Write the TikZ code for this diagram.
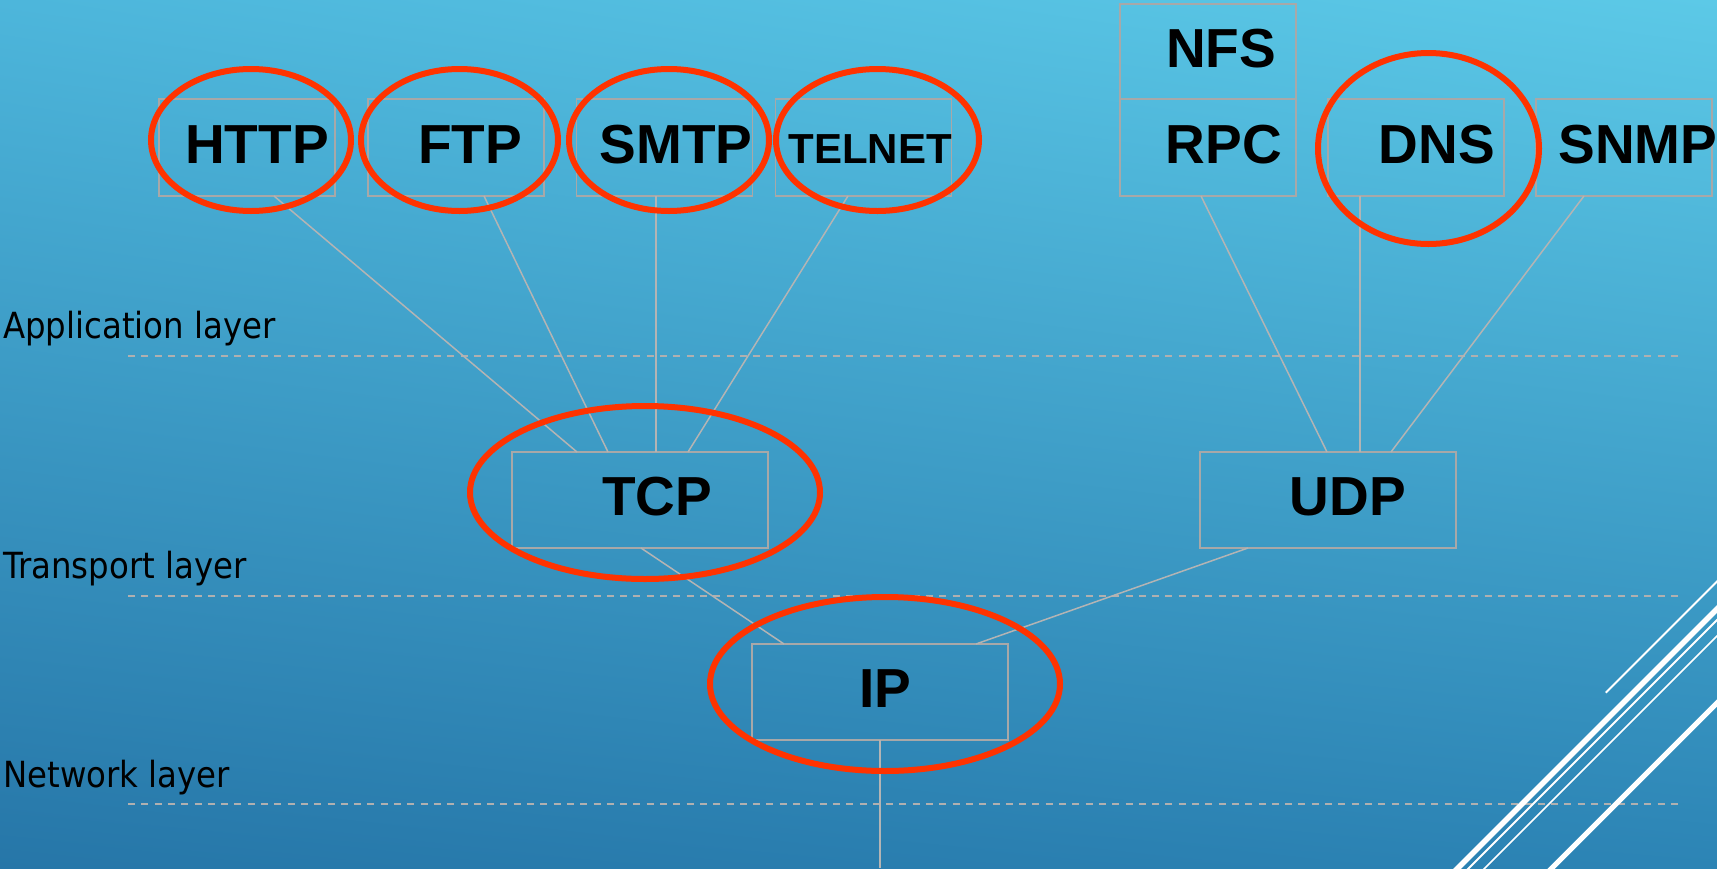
\documentclass[tikz,border=0pt]{standalone}
\usepackage{fontspec}
\usetikzlibrary{shadings}
\setmainfont{Liberation Sans}
\newfontfamily\layerfont[FakeStretch=0.9]{DejaVu Sans}
\definecolor{bgUL}{HTML}{4DB6DB}
\definecolor{bgUR}{HTML}{5CC9E7}
\definecolor{bgLL}{HTML}{2676A8}
\definecolor{bgLR}{HTML}{2C84B5}
\definecolor{boxgray}{HTML}{A8A8A8}
\definecolor{conngray}{HTML}{B4B4B4}
\definecolor{dashgray}{HTML}{B0B0B0}
\definecolor{ringred}{HTML}{FF3300}
\begin{document}
\begin{tikzpicture}[x=1pt,y=-1pt,
  box/.style={draw=boxgray, line width=1.5pt, minimum width=176pt, minimum height=97pt, inner sep=0pt, outer sep=0pt},
  bigbox/.style={box, minimum width=256pt, minimum height=96pt},
  lbl/.style={font=\bfseries\fontsize{55}{60}\selectfont, anchor=base, inner sep=0pt, text=black},
  smalllbl/.style={lbl, font=\bfseries\fontsize{42}{46}\selectfont},
  layer/.style={font=\layerfont\fontsize{36}{40}\selectfont, anchor=base west, inner sep=0pt, text=black},
  conn/.style={draw=conngray, line width=1.5pt},
  sep/.style={draw=dashgray, line width=2pt, dash pattern=on 7pt off 6.3pt},
  ring/.style={draw=ringred, line width=6pt},
  deco/.style={draw=white, line cap=butt}
]
\useasboundingbox (0,0) rectangle (1717,868);
\clip (0,0) rectangle (1717,868);
\shade[upper left=bgUL, upper right=bgUR, lower left=bgLL, lower right=bgLR] (0,0) rectangle (1717,868);

% layer separators
\coordinate (s1a) at (128,356); \coordinate (s1b) at (1681,356);
\coordinate (s2a) at (128,596); \coordinate (s2b) at (1681,596);
\coordinate (s3a) at (128,804); \coordinate (s3b) at (1681,804);
\draw[sep] (s1a) -- (s1b);
\draw[sep] (s2a) -- (s2b);
\draw[sep] (s3a) -- (s3b);

\node[layer] (appL) at (3,338) {Application layer};
\node[layer] (traL) at (3,578) {Transport layer};
\node[layer] (netL) at (3,787) {Network layer};

% boxes
\node[box] (http) at (247,147.5) {};
\node[box] (ftp) at (456,147.5) {};
\node[box] (smtp) at (664.5,147.5) {};
\node[box] (telnet) at (863.5,147.5) {};
\node[box, minimum height=95pt] (nfs) at (1208,51.5) {};
\node[box] (rpc) at (1208,147.5) {};
\node[box] (dns) at (1416,147.5) {};
\node[box] (snmp) at (1624,147.5) {};
\node[bigbox] (tcp) at (640,500) {};
\node[bigbox] (udp) at (1328,500) {};
\node[bigbox] (ip) at (880,692) {};
\coordinate (down) at (880,868);

% connectors
\draw[conn] ([xshift=27pt]http.south) -- ([xshift=-63pt]tcp.north);
\draw[conn] ([xshift=28pt]ftp.south) -- ([xshift=-32pt]tcp.north);
\draw[conn] ([xshift=-8.5pt]smtp.south) -- ([xshift=16pt]tcp.north);
\draw[conn] ([xshift=-15.5pt]telnet.south) -- ([xshift=48pt]tcp.north);
\draw[conn] ([xshift=-7pt]rpc.south) -- ([xshift=-1pt]udp.north);
\draw[conn] ([xshift=-56pt]dns.south) -- ([xshift=32pt]udp.north);
\draw[conn] ([xshift=-40pt]snmp.south) -- ([xshift=63pt]udp.north);
\draw[conn] ([xshift=1pt]tcp.south) -- ([xshift=-96pt]ip.north);
\draw[conn] ([xshift=-80pt]udp.south) -- ([xshift=96pt]ip.north);
\draw[conn] (ip.south) -- (down);

% labels
\node[lbl] (httpT) at (257,163) {HTTP};
\node[lbl] (ftpT) at (470,163) {FTP};
\node[lbl] (smtpT) at (676,163) {SMTP};
\node[smalllbl] (telnetT) at (870,163) {TELNET};
\node[lbl] (nfsT) at (1221,67) {NFS};
\node[lbl] (rpcT) at (1224,163) {RPC};
\node[lbl] (dnsT) at (1437,163) {DNS};
\node[lbl] (snmpT) at (1638,163) {SNMP};
\node[lbl] (tcpT) at (657,515) {TCP};
\node[lbl] (udpT) at (1348,515) {UDP};
\node[lbl] (ipT) at (885,707) {IP};

% red rings
\draw[ring] (251,140) ellipse [x radius=100, y radius=71];
\draw[ring] (459.5,140) ellipse [x radius=98.5, y radius=71];
\draw[ring] (669,140) ellipse [x radius=100, y radius=71];
\draw[ring] (877.5,140) ellipse [x radius=101.5, y radius=71];
\draw[ring] (1428.5,148.5) ellipse [x radius=110.5, y radius=95.5];
\draw[ring] (645,492.5) ellipse [x radius=175, y radius=86.5];
\draw[ring] (885,684) ellipse [x radius=175, y radius=87];

% white decorative strokes
\draw[deco, line width=2pt] (1605.7,692.7) -- (1735,563.4);
\draw[deco, line width=5.5pt] (1452,874) -- (1735,591);
\draw[deco, line width=2pt] (1463,874) -- (1735,602);
\draw[deco, line width=1.5pt] (1479,874) -- (1735,618);
\draw[deco, line width=5pt] (1546,874) -- (1735,685);
\end{tikzpicture}
\end{document}
